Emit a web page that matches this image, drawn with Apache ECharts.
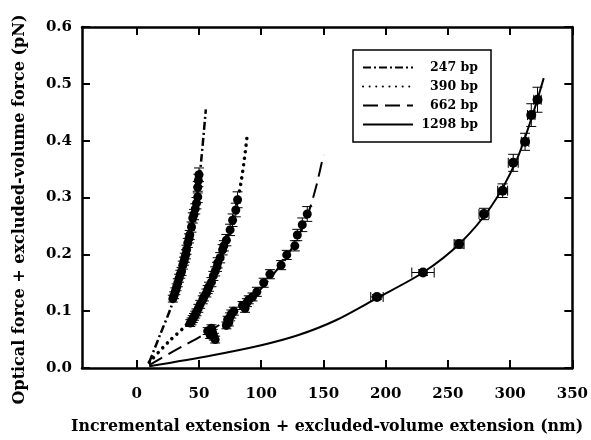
<!DOCTYPE html>
<html>
<head>
<meta charset="utf-8">
<script src="https://cdn.jsdelivr.net/npm/echarts@6/dist/echarts.min.js"></script>
<style>
  html, body { margin: 0; background: #fff; }
  #chart { width: 591px; height: 440px; }
</style>
</head>
<body>
<div id="chart"></div>
<script>
// tick labels
const xTicks = [0, 50, 100, 150, 200, 250, 300, 350];

// 247 bp data
const x247 = [29, 30, 31, 32, 33, 34, 35, 36, 37, 38, 38.6, 39.5, 40, 41, 42, 42.6, 44, 45, 46, 47, 48, 49, 49, 49.5, 50];
const y247 = [0.122, 0.128, 0.135, 0.142, 0.150, 0.158, 0.165, 0.170, 0.181, 0.188, 0.194, 0.200, 0.208, 0.220, 0.228, 0.234, 0.248, 0.264, 0.270, 0.280, 0.290, 0.301, 0.318, 0.330, 0.340];
const e247 = [0.006, 0.006, 0.006, 0.006, 0.007, 0.007, 0.007, 0.007, 0.007, 0.007, 0.008, 0.008, 0.008, 0.008, 0.008, 0.008, 0.009, 0.009, 0.009, 0.009, 0.010, 0.010, 0.010, 0.011, 0.012];

// 390 bp data
const x390 = [43, 44, 45, 46, 47, 48, 49.5, 51, 53, 54, 56, 57, 58, 60, 61.5, 63, 64.5, 65, 67, 69, 70, 72, 75, 77, 79.6, 81];
const y390 = [0.079, 0.082, 0.086, 0.090, 0.094, 0.098, 0.105, 0.112, 0.120, 0.125, 0.132, 0.138, 0.143, 0.151, 0.162, 0.170, 0.178, 0.185, 0.194, 0.208, 0.215, 0.225, 0.243, 0.260, 0.278, 0.296];
const e390 = [0.006, 0.006, 0.006, 0.006, 0.006, 0.006, 0.007, 0.007, 0.007, 0.007, 0.007, 0.007, 0.008, 0.008, 0.008, 0.008, 0.008, 0.009, 0.009, 0.009, 0.009, 0.010, 0.010, 0.011, 0.012, 0.014];

// 662 bp data
const x662 = [57, 59, 60, 61, 62, 63, 72, 73, 74, 75, 76, 78, 85, 87, 88.5, 90, 93, 96.5, 102, 107, 116, 120.5, 127, 129, 133, 137];
const y662 = [0.065, 0.058, 0.070, 0.062, 0.055, 0.050, 0.075, 0.085, 0.080, 0.090, 0.095, 0.100, 0.110, 0.105, 0.115, 0.120, 0.125, 0.134, 0.150, 0.165, 0.181, 0.199, 0.215, 0.234, 0.252, 0.271];
const e662 = [0.006, 0.006, 0.006, 0.006, 0.006, 0.006, 0.006, 0.006, 0.006, 0.007, 0.007, 0.007, 0.007, 0.007, 0.007, 0.007, 0.007, 0.008, 0.008, 0.008, 0.008, 0.008, 0.009, 0.010, 0.012, 0.013];

// 1298 bp data
const x1298 = [193, 230, 259, 279, 294, 302.5, 312, 317, 322];
const y1298 = [0.125, 0.168, 0.218, 0.271, 0.312, 0.361, 0.398, 0.445, 0.472];
const ey1298 = [0.004, 0.005, 0.007, 0.010, 0.012, 0.015, 0.015, 0.020, 0.022];
const ex1298 = [5, 9, 4, 4, 4, 4, 3, 3, 3];

// fitted curves
const fit247 = [[10, 0.01], [19, 0.06], [28, 0.11], [37, 0.18], [44, 0.25], [49, 0.31], [52, 0.37], [55.5, 0.455]];
const fit390 = [[10, 0.01], [25, 0.045], [41, 0.079], [55, 0.128], [65, 0.18], [75, 0.245], [82, 0.305], [86, 0.36], [89, 0.415]];
const fit662 = [[10, 0.005], [30, 0.03], [57, 0.063], [80, 0.097], [105, 0.152], [125, 0.212], [137, 0.268], [144, 0.318], [150, 0.375]];
const fit1298 = [[10, 0.003], [60, 0.022], [100, 0.04], [130, 0.058], [160, 0.084], [193, 0.123], [230, 0.168], [260, 0.22], [285, 0.285], [305, 0.365], [318, 0.445], [327, 0.51]];

const font = 'DejaVu Serif';

function fitLine(name, data, type, width, cap) {
    return {
        name: name,
        type: 'line',
        data: data,
        smooth: 0.3,
        symbol: 'none',
        z: 2,
        itemStyle: { color: '#000' },
        lineStyle: { color: '#000', width: width, type: type, cap: cap || 'butt' }
    };
}

function points(name, xs, ys, size) {
    return {
        name: name + ' pts',
        type: 'scatter',
        data: xs.map((x, i) => [x, ys[i]]),
        symbolSize: size,
        itemStyle: { color: '#000', opacity: 1 },
        z: 4
    };
}

function errorBars(name, xs, ys, yerr, xerr) {
    return {
        name: name + ' err',
        type: 'custom',
        silent: true,
        z: 3,
        data: xs.map((x, i) => [x, ys[i], yerr[i], xerr ? xerr[i] : 0]),
        renderItem: function (params, api) {
            const x = api.value(0), y = api.value(1), ey = api.value(2), ex = api.value(3);
            const c = api.coord([x, y]);
            const lo = api.coord([x, y - ey]);
            const hi = api.coord([x, y + ey]);
            const cap = 5;
            const kids = [
                [c[0], lo[1], c[0], hi[1]],
                [c[0] - cap, lo[1], c[0] + cap, lo[1]],
                [c[0] - cap, hi[1], c[0] + cap, hi[1]]
            ];
            if (ex > 0) {
                const l = api.coord([x - ex, y]);
                const r = api.coord([x + ex, y]);
                kids.push([l[0], c[1], r[0], c[1]]);
                kids.push([l[0], c[1] - cap, l[0], c[1] + cap]);
                kids.push([r[0], c[1] - cap, r[0], c[1] + cap]);
            }
            return {
                type: 'group',
                children: kids.map(k => ({
                    type: 'line',
                    shape: { x1: k[0], y1: k[1], x2: k[2], y2: k[3] },
                    style: { stroke: '#000', lineWidth: 1 }
                }))
            };
        }
    };
}

const axisLine = { show: true, onZero: false, lineStyle: { color: '#000', width: 2.5 } };
const tick = { show: true, inside: true, length: 8, lineStyle: { color: '#000', width: 2 } };

let option = {
    animation: false,
    backgroundColor: '#fff',
    grid: { left: 82, top: 27, right: 18, bottom: 72 },
    legend: {
        orient: 'vertical',
        left: 353,
        top: 50,
        data: ['247 bp', '390 bp', '662 bp', '1298 bp'],
        itemWidth: 50,
        itemHeight: 14,
        itemGap: 6,
        padding: [11, 13, 11, 9],
        borderColor: '#000',
        borderWidth: 1.5,
        itemStyle: { opacity: 0 },
        formatter: n => '{a|' + n + '}',
        textStyle: {
            rich: { a: { width: 60, align: 'right', fontFamily: font, fontWeight: 'bold', fontSize: 12.5, color: '#000' } }
        }
    },
    xAxis: [{
        type: 'value',
        min: -44,
        max: 350,
        name: 'Incremental extension + excluded-volume extension (nm)',
        nameLocation: 'middle',
        nameGap: 51,
        nameTextStyle: { fontFamily: font, fontWeight: 'bold', fontSize: 15.8, color: '#000' },
        axisLine: axisLine,
        axisTick: Object.assign({ customValues: xTicks }, tick),
        axisLabel: { customValues: xTicks, margin: 19, fontFamily: font, fontWeight: 'bold', fontSize: 15, color: '#000' },
        splitLine: { show: false }
    }, {
        type: 'value',
        position: 'top',
        min: -44,
        max: 350,
        axisLine: axisLine,
        axisTick: Object.assign({ customValues: xTicks }, tick),
        axisLabel: { show: false },
        splitLine: { show: false }
    }],
    yAxis: [{
        type: 'value',
        min: 0,
        max: 0.6,
        interval: 0.1,
        name: 'Optical force + excluded-volume force (pN)',
        nameLocation: 'middle',
        nameGap: 54,
        nameTextStyle: { fontFamily: font, fontWeight: 'bold', fontSize: 16, color: '#000', padding: [0, 24, 0, 0] },
        axisLine: axisLine,
        axisTick: tick,
        axisLabel: { margin: 10, formatter: v => v.toFixed(1), fontFamily: font, fontWeight: 'bold', fontSize: 15, color: '#000' },
        splitLine: { show: false }
    }, {
        type: 'value',
        position: 'right',
        min: 0,
        max: 0.6,
        interval: 0.1,
        axisLine: axisLine,
        axisTick: tick,
        axisLabel: { show: false },
        splitLine: { show: false }
    }],
    series: [
        fitLine('247 bp', fit247, [8, 3, 2, 3], 2.5),
        fitLine('390 bp', fit390, [0.1, 6.5], 3.5, 'round'),
        fitLine('662 bp', fit662, [15, 7], 2),
        fitLine('1298 bp', fit1298, 'solid', 2),
        errorBars('247 bp', x247, y247, e247),
        errorBars('390 bp', x390, y390, e390),
        errorBars('662 bp', x662, y662, e662),
        errorBars('1298 bp', x1298, y1298, ey1298, ex1298),
        points('247 bp', x247, y247, 9),
        points('390 bp', x390, y390, 9),
        points('662 bp', x662, y662, 9),
        points('1298 bp', x1298, y1298, 10)
    ]
};

let chart = echarts.init(document.getElementById('chart'));
chart.setOption(option);
</script>
</body>
</html>
